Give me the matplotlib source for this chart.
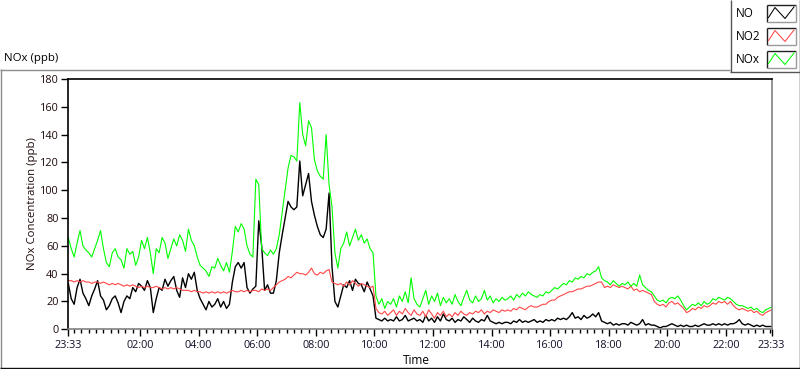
import numpy as np
import matplotlib
matplotlib.use("Agg")
import matplotlib.pyplot as plt
from matplotlib.lines import Line2D
from matplotlib.patches import Rectangle

# ---------------- data (readings every 6 minutes from 23:33) ----------------
sample_step_h = 0.1

no = [
    33, 22, 18, 30, 36, 26, 22, 17, 24, 29,
    35, 24, 21, 14, 17, 22, 24, 19, 12, 20,
    24, 22, 30, 27, 33, 31, 28, 35, 30, 12,
    22, 30, 28, 36, 31, 35, 38, 28, 23, 37,
    30, 40, 36, 41, 28, 22, 18, 14, 20, 16,
    18, 22, 16, 20, 15, 18, 34, 45, 48, 44,
    48, 30, 26, 29, 31, 78, 60, 28, 32, 26,
    26, 35, 55, 68, 80, 92, 88, 86, 88, 121,
    96, 104, 112, 92, 82, 74, 68, 66, 72, 98,
    45, 20, 16, 24, 32, 30, 35, 28, 36, 33,
    32, 27, 34, 29, 24, 8, 7, 6, 8, 6,
    7, 6, 9, 6, 7, 10, 6, 7, 8, 6,
    7, 5, 10, 6, 8, 5, 9, 6, 11, 7,
    6, 8, 5, 7, 6, 9, 7, 5, 8, 6,
    5, 7, 6, 10, 6, 5, 4, 5, 4, 5,
    5, 4, 6, 5, 7, 5, 6, 5, 6, 7,
    5, 6, 5, 7, 6, 7, 6, 8, 7, 8,
    7, 9, 12, 8, 9, 7, 10, 8, 9, 11,
    9, 12, 6, 5, 4, 5, 3, 4, 3, 4,
    4, 3, 5, 4, 3, 4, 7, 3, 4, 3,
    3, 2, 1, 2, 2, 3, 4, 3, 2, 3,
    2, 3, 2, 2, 3, 2, 3, 4, 3, 3,
    4, 3, 4, 3, 4, 3, 4, 4, 5, 7,
    4, 3, 4, 3, 2, 3, 2, 3, 2, 2, 2,
]

no2 = [
    35, 35, 34, 35, 34, 35, 34, 34, 33, 34,
    34, 33, 34, 33, 32, 33, 32, 33, 32, 31,
    32, 31, 32, 31, 30, 31, 30, 31, 30, 30,
    31, 30, 29, 30, 29, 30, 29, 30, 29, 28,
    28, 28, 27, 28, 27, 27, 26, 27, 26, 27,
    26, 27, 26, 27, 26, 27, 28, 27, 27, 28,
    27, 28, 27, 28, 28, 27, 29, 28, 29, 28,
    30, 32, 34, 35, 36, 38, 37, 39, 41, 40,
    40, 39, 41, 44, 40, 39, 41, 40, 42, 43,
    34, 33, 32, 33, 31, 34, 32, 35, 33, 31,
    33, 32, 31, 30, 31, 15, 12, 11, 13, 10,
    12, 14, 10, 13, 11, 15, 12, 10, 14, 11,
    10, 13, 9, 14, 11, 8, 12, 10, 13, 9,
    11, 9, 12, 10, 13, 11, 10, 12, 11, 13,
    12, 14, 11, 13, 12, 14, 13, 12, 14, 13,
    14, 13, 15, 14, 16, 15, 14, 16, 17, 16,
    16, 17, 18, 18, 20, 21, 21, 23, 24, 25,
    26, 27, 27, 28, 29, 29, 30, 31, 31, 32,
    33, 34, 34, 30, 31, 30, 32, 31, 30, 31,
    30, 29, 31, 28, 29, 27, 28, 27, 26, 25,
    20, 18, 17, 18, 16, 19, 20, 18, 19, 17,
    15, 12, 13, 15, 14, 16, 15, 17, 16, 17,
    19, 18, 20, 19, 20, 18, 20, 17, 15, 14,
    15, 14, 13, 14, 12, 13, 11, 10, 12, 13, 14,
]

nox = [
    66, 58, 52, 62, 71, 60, 57, 55, 52, 58,
    64, 71, 58, 48, 45, 55, 58, 52, 50, 44,
    58, 54, 56, 46, 52, 64, 58, 66, 55, 40,
    58, 55, 66, 62, 51, 58, 65, 60, 68, 64,
    56, 72, 64, 60, 52, 46, 44, 42, 38, 45,
    44, 51, 46, 42, 48, 41, 56, 74, 70, 76,
    72, 60, 54, 52, 108, 104, 58, 55, 53, 57,
    54, 58, 68, 84, 100, 116, 125, 124, 121, 163,
    140, 132, 150, 145, 122, 114, 110, 108, 140, 104,
    88, 55, 44, 58, 62, 70, 60, 66, 72, 64,
    68, 62, 65, 58, 55, 24, 18, 22, 15, 20,
    18, 22, 16, 24, 20, 27, 19, 37, 22, 18,
    16, 22, 28, 18, 24, 20, 26, 17, 23, 19,
    22, 18, 25, 20, 17, 23, 28, 21, 19, 24,
    20, 22, 28, 21, 24, 19, 22, 20, 23, 21,
    22, 24, 21, 25, 23, 26, 24, 27, 25, 24,
    23, 25, 24, 27, 26, 28, 30, 29, 31, 33,
    32, 35, 34, 37, 36, 38, 37, 40, 39, 41,
    42, 45, 37, 35, 34, 32, 35, 33, 31, 33,
    32, 34, 31, 33, 31, 39, 32, 30, 28, 27,
    24, 21, 20, 21, 19, 22, 23, 22, 24, 21,
    17, 14, 16, 18, 17, 19, 17, 20, 18, 19,
    22, 21, 23, 22, 21, 23, 22, 20, 18, 17,
    17, 16, 15, 16, 14, 15, 13, 12, 14, 15, 16,
]

series_names = ["NO", "NO2", "NOx"]
series_colors = ["#000000", "#ff4646", "#00ff00"]
start_clock = "23:33"
x_tick_labels = ["23:33", "02:00", "04:00", "06:00", "08:00", "10:00", "12:00",
                 "14:00", "16:00", "18:00", "20:00", "22:00", "23:33"]
y_ticks = [0, 20, 40, 60, 80, 100, 120, 140, 160, 180]

# ---------------- figure ----------------
W, H = 800, 369
fig = plt.figure(figsize=(W / 100, H / 100), dpi=100)
fig.patch.set_facecolor("white")
FONT = ["Open Sans", "DejaVu Sans"]
TXT = "#000000"


def fx(x):
    return x / W


def fy(y):
    return 1 - y / H


def hline(x0, x1, y, color, lw=1.0):
    fig.add_artist(Line2D([fx(x0), fx(x1)], [fy(y), fy(y)], color=color, lw=lw,
                          transform=fig.transFigure, solid_capstyle="butt"))


def vline(x, y0, y1, color, lw=1.0):
    fig.add_artist(Line2D([fx(x), fx(x)], [fy(y0), fy(y1)], color=color, lw=lw,
                          transform=fig.transFigure, solid_capstyle="butt"))


# panel frame
hline(0, 730, 69.5, "#8c8c8c")
vline(0.5, 69, 368, "#8c8c8c")
hline(0, 800, 367.5, "#101010")
vline(799.5, 0, 368, "#101010")
# legend box
vline(730.5, 0, 72, "#555555")
hline(730, 800, 71.5, "#555555")

# plot axes
left, right, top, bottom = 68.3, 771.5, 79.0, 329.3
ax = fig.add_axes([fx(left), fy(bottom), (right - left) / W, (bottom - top) / H])

t = np.arange(len(no)) * sample_step_h
data = [no, no2, nox]
widths = [1.0, 0.8, 0.8]
for vals, col, lw, name in zip(data, series_colors, widths, series_names):
    ax.plot(t, vals, color=col, lw=lw, label=name)

total_h = 24.0
ax.set_xlim(0, total_h)
ax.set_ylim(0, 180)


def clock_to_offset(lbl, idx):
    h, m = map(int, lbl.split(":"))
    sh, sm = map(int, start_clock.split(":"))
    off = ((h * 60 + m) - (sh * 60 + sm)) % (24 * 60) / 60.0
    if idx == len(x_tick_labels) - 1 and off == 0:
        off = total_h
    return off


major_pos = [clock_to_offset(l, i) for i, l in enumerate(x_tick_labels)]
ax.set_xticks(major_pos)
ax.set_xticklabels(x_tick_labels)
minor_first = (15 - int(start_clock.split(":")[1]) % 15) / 60.0
ax.set_xticks(np.arange(minor_first, total_h, 0.25), minor=True)
ax.set_yticks(y_ticks)

ax.tick_params(axis="x", which="major", length=5, width=1, direction="out", pad=3,
               labelsize=7.8, labelcolor="#10102a", color="#000000")
ax.tick_params(axis="x", which="minor", length=3, width=1, direction="out", color="#000000")
ax.tick_params(axis="y", which="major", length=5, width=1, direction="out", pad=2,
               labelsize=7.8, labelcolor="#200a0a", color="#000000")
for lab in ax.get_xticklabels() + ax.get_yticklabels():
    lab.set_family(FONT)

for s in ["top", "left"]:
    ax.spines[s].set_color("#000000")
    ax.spines[s].set_linewidth(1.2)
for s in ["right", "bottom"]:
    ax.spines[s].set_color("#808080")
    ax.spines[s].set_linewidth(1.2)

# texts
fig.text(fx(4), fy(59), "NOx (ppb)", ha="left", va="center", fontsize=8.2, family=FONT,
         color=TXT)
fig.text(fx(33), fy(204), "NOx Concentration (ppb)", ha="center", va="center",
         rotation=90, fontsize=8.2, family=FONT, color="#200a0a")
fig.text(fx(416), fy(360), "Time", ha="center", va="center", fontsize=8.5, family=FONT,
         color=TXT)

# legend entries
sw_tops = [4.5, 27.5, 50.5]
for name, col, ytop in zip(series_names, series_colors, sw_tops):
    fig.text(fx(735.5), fy(ytop + 9), name, ha="left", va="center", fontsize=8.4,
             family=FONT, color=TXT)
    x0, x1, y0, y1 = 767, 795.5, ytop, ytop + 17.5
    fig.add_artist(Rectangle((fx(x0), fy(y1)), fx(x1) - fx(x0), fy(y0) - fy(y1),
                             facecolor="white", edgecolor="none", transform=fig.transFigure))
    hline(x0, x1, y0, "#202020")
    vline(x0, y0, y1, "#202020")
    hline(x0, x1, y1, "#9a9a9a")
    vline(x1, y0, y1, "#9a9a9a")
    zx = [x0 + 1.5, x0 + 8, x0 + 18, x0 + 27]
    zy = [y0 + 13, y0 + 3, y0 + 14, y0 + 2.5]
    fig.add_artist(Line2D([fx(v) for v in zx], [fy(v) for v in zy], color=col, lw=0.75,
                          transform=fig.transFigure))

fig.savefig("out.png", dpi=100, facecolor="white")
